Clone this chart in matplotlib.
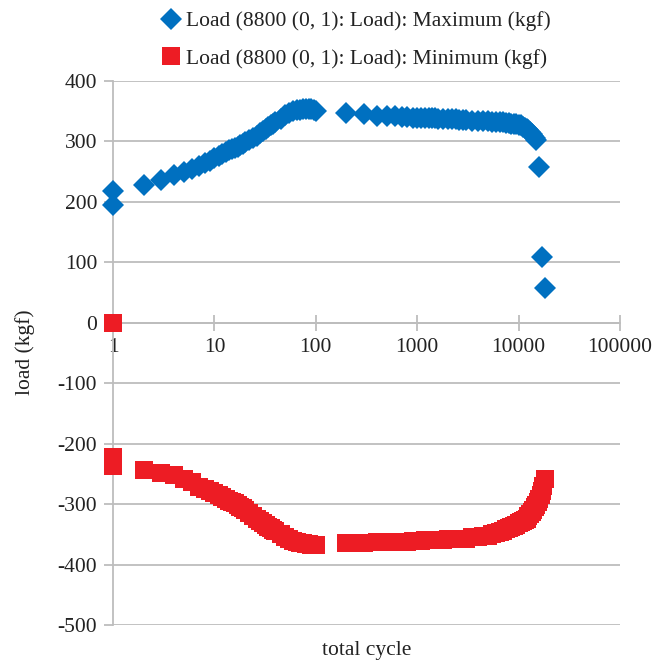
import matplotlib.pyplot as plt
from matplotlib.ticker import FixedLocator, FixedFormatter, NullLocator

plt.rcParams['font.family'] = ['Liberation Serif', 'DejaVu Serif']
plt.rcParams['font.size'] = 15.5
plt.rcParams['axes.unicode_minus'] = False

# Maximum load per cycle (blue diamonds)
CYCLE_MAX = [1, 1, 2, 3, 4,
             5, 6, 7, 8, 9, 10, 11, 12, 13, 14, 15, 16, 17, 18, 19, 20,
             22, 24, 26, 28, 30, 32, 34, 36, 38, 40,
             45, 50, 55, 60, 65, 70, 75, 80, 85, 90, 95, 100,
             200, 300, 400, 500,
             600, 700, 800, 900, 1000, 1100, 1200, 1300, 1400, 1500, 1600, 1800,
             2000, 2200, 2400, 2600, 2800, 3000, 3500, 4000, 4500, 5000, 5500,
             6000, 6500, 7000, 7500, 8000, 8500, 9000, 9500, 10000, 10500,
             11000, 11500, 12000, 12500, 13000, 13500, 14000, 14500, 15000,
             16000, 17000, 18000]
LOAD_MAX = [218, 195, 228, 236, 244,
            249, 254, 259, 264, 268, 272, 275, 279, 282, 285, 287, 289, 291, 293, 296, 299,
            302, 305, 309, 313, 317, 320, 323, 326, 328, 331,
            337, 343, 347, 350, 351, 352, 353, 353, 353, 353, 352, 350,
            346, 345, 342, 341,
            341, 340, 340, 339, 339, 339, 338, 338, 338, 338, 337, 337,
            336, 336, 336, 335, 335, 335, 334, 334, 333, 333, 332,
            332, 331, 331, 330, 330, 329, 329, 328, 327, 326,
            324, 322, 320, 318, 315, 312, 309, 306, 302,
            258, 108, 57]

# Minimum load per cycle (red squares)
CYCLE_MIN = [1, 1, 1,
             2, 3, 4, 5, 6, 7, 8, 9, 10, 11, 12, 13, 14, 15, 16, 17, 18, 19, 20,
             22, 24, 26, 28, 30, 32, 34, 36, 38, 40,
             45, 50, 55, 60, 65, 70, 75, 80, 85, 90, 95, 100,
             200, 300, 400, 500,
             600, 700, 800, 900, 1000, 1100, 1200, 1300, 1400, 1500, 1600, 1800,
             2000, 2200, 2400, 2600, 2800, 3000, 3500, 4000, 4500, 5000, 5500,
             6000, 6500, 7000, 7500, 8000, 8500, 9000, 9500, 10000, 10500,
             11000, 11500, 12000, 12500, 13000, 13500, 14000, 14500, 15000,
             15500, 16000, 16500, 17000, 17500, 18000]
LOAD_MIN = [0, -222, -237,
            -243, -248, -252, -258, -263, -271, -275, -278, -282, -285, -288, -292, -295, -297, -299, -302, -305, -307, -310,
            -314, -319, -324, -328, -332, -335, -338, -340, -343, -345,
            -350, -355, -358, -361, -363, -364, -365, -366, -366, -367, -367, -367,
            -365, -364, -363, -363,
            -362, -362, -362, -361, -361, -361, -360, -360, -360, -359, -359, -359,
            -358, -358, -358, -357, -357, -357, -355, -354, -353, -352, -350,
            -348, -346, -344, -342, -340, -338, -336, -334, -332, -330,
            -328, -326, -324, -320, -316, -313, -309, -305, -301,
            -297, -292, -285, -278, -270, -258]

X_TICKS = [1, 10, 100, 1000, 10000, 100000]
X_LABELS = ['1', '10', '100', '1000', '10000', '100000']
Y_TICKS = [400, 300, 200, 100, 0, -100, -200, -300, -400, -500]

LABEL_MAX = 'Load (8800 (0, 1): Load): Maximum (kgf)'
LABEL_MIN = 'Load (8800 (0, 1): Load): Minimum (kgf)'

GRID = '#bdbdbd'
TEXT = '#222222'

fig = plt.figure(figsize=(6.70, 6.64), dpi=100)
ax = fig.add_axes([0.1687, 0.0587, 0.9254 - 0.1687, 0.8785 - 0.0587])

ax.plot(CYCLE_MAX, LOAD_MAX, linestyle='none', marker='D', markersize=10.8,
        color='#0070c0', markeredgewidth=0, clip_on=False, label=LABEL_MAX, zorder=3)
ax.plot(CYCLE_MIN, LOAD_MIN, linestyle='none', marker='s', markersize=13.5,
        color='#ed1c24', markeredgewidth=0, clip_on=False, label=LABEL_MIN, zorder=3)

ax.set_xscale('log')
ax.set_xlim(1, 100000)
ax.set_ylim(-500, 400)

ax.xaxis.set_major_locator(FixedLocator(X_TICKS))
ax.xaxis.set_major_formatter(FixedFormatter(X_LABELS))
ax.xaxis.set_minor_locator(NullLocator())
ax.set_yticks(Y_TICKS)

ax.grid(axis='y', color=GRID, linewidth=1.3)
ax.set_axisbelow(True)

for side in ['top', 'right']:
    ax.spines[side].set_visible(False)
ax.spines['bottom'].set_position(('data', 0))
ax.spines['bottom'].set_color(GRID)
ax.spines['bottom'].set_linewidth(1.3)
ax.spines['left'].set_color(GRID)
ax.spines['left'].set_linewidth(1.3)

ax.tick_params(axis='x', direction='inout', length=12, width=1.3, color=GRID,
               pad=5, labelcolor=TEXT)
ax.tick_params(axis='y', direction='out', length=6.5, width=1.3, color=GRID,
               pad=5, labelcolor=TEXT)

fig.text(0.547, 0.021, 'total cycle', ha='center', va='center', color=TEXT)
fig.text(0.037, 0.47, 'load (kgf)', ha='center', va='center', rotation=90, color=TEXT)

fig.legend(loc='upper center', bbox_to_anchor=(0.53, 1.012), frameon=False,
           ncols=1, labelspacing=0.8, handlelength=1.0, handletextpad=0.2,
           labelcolor=TEXT)

fig.savefig('out.png', dpi=100)
